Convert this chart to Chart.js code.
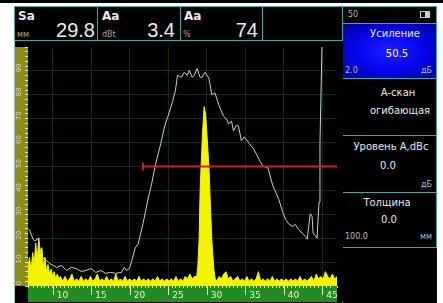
<!DOCTYPE html>
<html>
<head>
<meta charset="utf-8">
<title>А-скан</title>
<script src="https://cdn.jsdelivr.net/npm/chart.js@4.4.1/dist/chart.umd.min.js"></script>
<style>
  body { margin: 0; width: 443px; height: 303px; background: #fff; position: relative; overflow: hidden; font-family: "DejaVu Sans", sans-serif; }
  .abs { position: absolute; }
  .cell { position: absolute; box-sizing: border-box; border: 1px solid #4aa5a5; }
  .t { position: absolute; white-space: nowrap; color: #ececec; }
  .lbl { font-size: 12px; line-height: 12px; font-weight: bold; }
  .unit { font-size: 8px; line-height: 8px; color: #a8a8a8; }
  .big { font-family: "Liberation Sans", sans-serif; font-size: 20px; line-height: 20px; width: 50px; text-align: right; }
  .pn { font-size: 10px; line-height: 12px; width: 100px; text-align: center; }
  .sm { font-size: 8px; line-height: 8px; color: #bdbdbd; }
  .blue { background: radial-gradient(ellipse at center, #1e1eff 0%, #0505ee 50%, #00009a 100%); }
</style>
</head>
<body>
<div class="abs" style="left:0;top:0;width:443px;height:3px;background:#000"></div>
<div class="abs" style="left:14px;top:6px;width:423px;height:297px;background:#000;border-left:1px solid #9cc4c4;box-sizing:border-box"></div>

<!-- header -->
<div class="cell" style="left:14px;top:6px;width:84px;height:35px"></div>
<div class="cell" style="left:97px;top:6px;width:84px;height:35px"></div>
<div class="cell" style="left:180px;top:6px;width:83px;height:35px"></div>
<div class="cell" style="left:262px;top:6px;width:81px;height:35px"></div>
<div class="t lbl" style="left:18px;top:10px">Sa</div>
<div class="t unit" style="left:17px;top:31px">мм</div>
<div class="t big" style="left:45px;top:20px">29.8</div>
<div class="t lbl" style="left:102px;top:10px">Aa</div>
<div class="t unit" style="left:102px;top:31px">dBt</div>
<div class="t big" style="left:125px;top:20px">3.4</div>
<div class="t lbl" style="left:184px;top:10px">Aa</div>
<div class="t unit" style="left:183px;top:31px">%</div>
<div class="t big" style="left:208px;top:20px">74</div>

<!-- right panel -->
<div class="cell" style="left:342px;top:6px;width:95px;height:18px"></div>
<div class="cell blue" style="left:342px;top:23px;width:95px;height:56px"></div>
<div class="cell" style="left:342px;top:78px;width:95px;height:58px"></div>
<div class="cell" style="left:342px;top:135px;width:95px;height:58px"></div>
<div class="cell" style="left:342px;top:192px;width:95px;height:56px"></div>
<div class="abs" style="left:342px;top:247px;width:1px;height:56px;background:#4aa5a5"></div>
<div class="t sm" style="left:348px;top:11px">50</div>
<div class="abs" style="left:420px;top:11px;width:10px;height:7px;border:1px solid #cfcfcf;box-sizing:border-box;background:linear-gradient(to right,#000 45%,#cfcfcf 45%)"></div>
<div class="t pn" style="left:345px;top:28px">Усиление</div>
<div class="t pn" style="left:347px;top:48px;color:#ffffb0">50.5</div>
<div class="t sm" style="left:345px;top:67px">2.0</div>
<div class="t sm" style="left:412px;top:67px;width:20px;text-align:right">дБ</div>
<div class="t pn" style="left:348px;top:87px">А-скан</div>
<div class="t pn" style="left:350px;top:105px">огибающая</div>
<div class="t pn" style="left:341px;top:141px">Уровень А,dBc</div>
<div class="t pn" style="left:338px;top:160px">0.0</div>
<div class="t sm" style="left:412px;top:181px;width:20px;text-align:right">дБ</div>
<div class="t pn" style="left:337px;top:197px">Толщина</div>
<div class="t pn" style="left:339px;top:214px">0.0</div>
<div class="t sm" style="left:345px;top:233px">100.0</div>
<div class="t sm" style="left:412px;top:233px;width:20px;text-align:right">мм</div>

<canvas id="ascan" width="328" height="261" style="position:absolute;left:15px;top:41px"></canvas>

<script>
// depth, mm / amplitude, % of screen height
var sigX = [6.8, 7.0, 7.2, 7.4, 7.6, 7.8, 8.0, 8.2, 8.4, 8.6, 8.8, 9.0, 9.2, 9.4, 9.6, 9.8, 10.0, 10.2, 10.4, 10.6, 10.8, 11.0,
	11.3, 11.6, 11.9, 12.2, 12.5, 12.8, 13.1, 13.4, 13.7, 14.0, 14.3, 14.6, 14.9, 15.2, 15.5, 15.8, 16.1, 16.4, 16.7, 17.0,
	17.3, 17.6, 17.9, 18.2, 18.5, 18.8, 19.1, 19.4, 19.7, 20.0, 20.3, 20.6, 20.9, 21.2, 21.5, 21.8, 22.1, 22.4, 22.7, 23.0,
	23.3, 23.6, 23.9, 24.2, 24.5, 24.8, 25.1, 25.4, 25.7, 26.0, 26.3, 26.6, 26.9, 27.2, 27.5, 27.8, 28.1, 28.4, 28.7, 28.85,
	29.0, 29.13, 29.26, 29.45, 29.65, 29.85, 30.05, 30.28, 30.41, 30.66, 30.92, 31.1, 31.3, 31.6, 31.9, 32.2, 32.5, 32.8,
	33.1, 33.4, 33.7, 34.0, 34.3, 34.6, 34.9, 35.2, 35.5, 35.8, 36.1, 36.4, 36.7, 37.0, 37.3, 37.6, 37.9, 38.2, 38.5, 38.8,
	39.1, 39.4, 39.7, 40.0, 40.3, 40.6, 40.9, 41.2, 41.5, 41.8, 42.1, 42.4, 42.7, 43.0, 43.3, 43.6, 43.9, 44.2, 44.5, 44.8,
	45.1, 45.4, 45.7, 46.0, 46.3, 46.6, 46.9];
var sigY = [8, 12, 6, 14, 9, 18, 11, 20, 13, 16, 8, 12, 6, 9, 5, 7, 4, 6, 3, 5, 3, 4,
	2, 4, 2, 3, 5, 2, 3, 2, 4, 2, 3, 2, 4, 2, 3, 5, 2, 3, 2, 4,
	2, 3, 2, 5, 2, 3, 2, 4, 2, 3, 2, 3, 2, 4, 2, 3, 2, 3, 2, 3,
	2, 4, 2, 3, 2, 3, 2, 3, 2, 4, 2, 3, 2, 4, 3, 5, 3, 4, 4, 9,
	19, 39, 50, 64, 75, 72, 62, 50, 39, 19, 7, 3, 2, 4, 3, 5, 6, 3,
	4, 2, 3, 4, 2, 3, 2, 4, 2, 3, 2, 3, 6, 2, 3, 2, 3, 2, 4, 2,
	3, 2, 3, 2, 3, 2, 3, 2, 3, 2, 4, 2, 3, 2, 3, 4, 2, 5, 3, 4,
	3, 6, 4, 3, 5, 3, 4];

// envelope
var envX = [6.9, 7.07, 7.45, 7.7, 8.09, 8.34, 8.72, 9.23, 9.62, 10.51, 11.15, 11.79, 12.42, 13.06, 13.7, 14.34, 14.97,
	15.61, 16.25, 16.89, 17.53, 18.16, 18.93, 19.31, 19.57, 19.95, 20.2, 20.71, 21.1, 21.73, 22.37, 22.88, 23.39, 24.03,
	24.54, 24.92, 25.56, 25.94, 26.2, 26.71, 27.09, 27.47, 27.73, 28.11, 28.37, 28.75, 29.13, 29.39, 29.77, 30.28, 30.66,
	31.05, 31.56, 31.94, 32.19, 32.58, 32.83, 33.21, 33.47, 33.85, 34.11, 34.49, 34.87, 35.51, 36.02, 36.4, 36.91, 37.3,
	37.94, 38.57, 38.95, 39.34, 39.85, 40.23, 40.61, 41.12, 41.51, 41.89, 42.4, 42.78, 43.04, 43.42, 43.67, 43.8, 44.06,
	44.31, 44.57, 44.69, 44.82, 44.95];
var envY = [24, 22.9, 19.6, 18.8, 20.0, 15.9, 11.8, 10.6, 9.4, 7.8, 8.6, 6.5, 7.8, 7.3, 6.1, 6.5, 7.3,
	5.7, 6.5, 5.3, 5.7, 5.3, 5.7, 7.8, 6.5, 7.3, 9.8, 15.9, 17.6, 26.1, 36.3, 43.3, 51.4, 59.6,
	66.9, 70.6, 77.1, 82.0, 88.2, 87.3, 89.4, 88.2, 90.2, 87.3, 88.2, 91.0, 87.3, 87.3, 89.4, 86.9, 80.0,
	80.8, 75.9, 72.7, 71.0, 69.8, 67.8, 69.0, 64.9, 67.3, 66.9, 60.8, 62.4, 59.6, 57.6, 55.5, 52.2, 50.2,
	49.4, 42.0, 39.2, 36.3, 31.0, 27.8, 26.1, 24.9, 25.7, 23.7, 22.0, 20.8, 19.6, 30.2, 29.0, 22.0, 21.2,
	20.0, 35.1, 59.6, 80.0, 100];

// gate A
var gateX = [21.7, 46.9];
var gateY = [50, 50];

var xTickLabels = [10, 15, 20, 25, 30, 35, 40, 45];
var yTickLabels = [0, 10, 20, 30, 40, 50, 60, 70, 80, 90];

var gridColor = "#0f2a15";

function pts(xs, ys) {
	return xs.map((x, i) => ({ x: x, y: ys[i] }));
}

const screenBands = {
	id: "screenBands",
	beforeDraw(chart) {
		const ctx = chart.ctx, x = chart.scales.x, y = chart.scales.y;
		ctx.save();
		ctx.fillStyle = "#000";
		ctx.fillRect(0, 0, chart.width, chart.height);
		ctx.fillStyle = "#8c8c18"; // ruler
		ctx.fillRect(y.left, y.top, y.width, y.height);
		ctx.fillStyle = "#228b22"; // depth band
		ctx.fillRect(x.left, x.top, x.width, chart.height - x.top);
		ctx.restore();
	},
	afterDraw(chart) {
		const ctx = chart.ctx, x = chart.scales.x;
		ctx.save();
		ctx.strokeStyle = "#e6f2c8";
		ctx.lineWidth = 1;
		xTickLabels.forEach(function (v) {
			const px = Math.round(x.getPixelForValue(v)) + 0.5;
			ctx.beginPath();
			ctx.moveTo(px, x.top);
			ctx.lineTo(px, x.top + 9);
			ctx.stroke();
		});
		ctx.restore();
	}
};

new Chart(document.getElementById("ascan").getContext("2d"), {
	type: "line",
	data: {
		datasets: [
			{
				label: "Строб A",
				data: pts(gateX, gateY),
				borderColor: "#d42020",
				borderWidth: 2,
				pointStyle: "line",
				rotation: 90,
				pointRadius: [4, 0],
				pointBorderColor: "#d42020",
				pointBorderWidth: 2
			},
			{
				label: "огибающая",
				data: pts(envX, envY),
				borderColor: "#cfcfcf",
				borderWidth: 1,
				pointRadius: 0,
				tension: 0
			},
			{
				label: "А-скан",
				data: pts(sigX, sigY),
				borderColor: "#f4f400",
				backgroundColor: "#f4f400",
				borderWidth: 1,
				pointRadius: 0,
				tension: 0,
				fill: "origin"
			}
		]
	},
	options: {
		responsive: false,
		animation: false,
		layout: { padding: 0 },
		plugins: { legend: { display: false }, tooltip: { enabled: false } },
		scales: {
			x: {
				type: "linear",
				min: 6.8,
				max: 46.9,
				afterFit: function (s) { s.height = 16; },
				border: { display: false },
				grid: {
					color: c => (c.tick && xTickLabels.includes(c.tick.value)) ? gridColor : "transparent",
					tickColor: "#d8ecb8",
					tickLength: 2
				},
				ticks: {
					stepSize: 0.5,
					autoSkip: false,
					maxRotation: 0,
					align: "start",
					labelOffset: 4,
					padding: 2,
					color: "#f2f2cc",
					font: { family: "DejaVu Sans", size: 9 },
					callback: v => xTickLabels.includes(v) ? String(v) : ""
				}
			},
			y: {
				min: 0,
				max: 100,
				afterFit: function (s) { s.width = 13; },
				border: { display: false },
				grid: {
					color: c => (c.tick && c.tick.value % 10 === 0 && c.tick.value > 0 && c.tick.value < 100) ? gridColor : "transparent",
					tickColor: "#e8e8b8",
					tickLength: 3
				},
				ticks: {
					stepSize: 2,
					autoSkip: false,
					minRotation: 90,
					maxRotation: 90,
					crossAlign: "center",
					padding: 1,
					labelOffset: -3,
					color: "#dcdcb0",
					font: { family: "DejaVu Sans", size: 7 },
					callback: v => yTickLabels.includes(v) ? String(v) : ""
				}
			}
		}
	},
	plugins: [screenBands]
});
</script>
</body>
</html>
